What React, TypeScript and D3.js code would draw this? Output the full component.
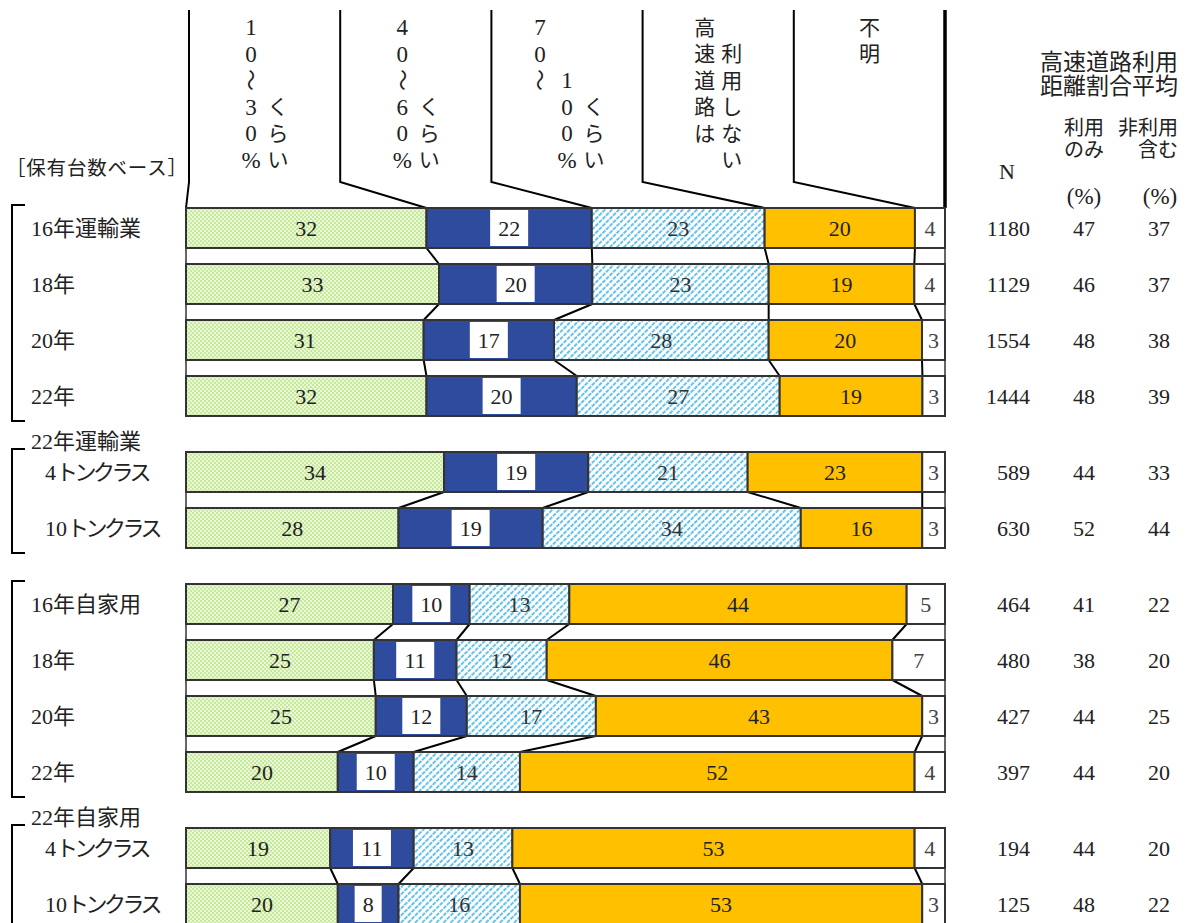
import React from 'react';
import * as d3 from 'd3';

// ---------- data ----------
const categories = ['16年運輸業', '18年', '20年', '22年', '4トンクラス', '10トンクラス', '16年自家用', '18年', '20年', '22年', '4トンクラス', '10トンクラス'];
const groupOf = [0, 0, 0, 0, 1, 1, 2, 2, 2, 2, 3, 3];
const isSubRow = [false, false, false, false, true, true, false, false, false, false, true, true];
const groupTitles = ['', '22年運輸業', '', '22年自家用'];

const seriesNames = ['10～30%くらい', '40～60%くらい', '70～100%くらい', '高速道路は利用しない', '不明'];
const share10to30 = [32, 33, 31, 32, 34, 28, 27, 25, 25, 20, 19, 20];
const share40to60 = [22, 20, 17, 20, 19, 19, 10, 11, 12, 10, 11, 8];
const share70to100 = [23, 23, 28, 27, 21, 34, 13, 12, 17, 14, 13, 16];
const shareNone = [20, 19, 20, 19, 23, 16, 44, 46, 43, 52, 53, 53];
const shareUnknown = [4, 4, 3, 3, 3, 3, 5, 7, 3, 4, 4, 3];

const nValues = [1180, 1129, 1554, 1444, 589, 630, 464, 480, 427, 397, 194, 125];
const avgUsersOnly = [47, 46, 48, 48, 44, 52, 41, 38, 44, 44, 44, 48];
const avgInclNonUsers = [37, 37, 38, 39, 33, 44, 22, 20, 25, 20, 20, 22];

// header texts as vertical columns: [text, starting row]
const headerTexts: [string, number][][] = [
  [['10～30%', 0], ['くらい', 3]],
  [['40～60%', 0], ['くらい', 3]],
  [['70～', 0], ['100%', 2], ['くらい', 3]],
  [['高速道路は', 0], ['利用しない', 1]],
  [['不明', 0]],
];
const rightTitle = ['高速道路利用', '距離割合平均'];
const subHeadUsers = ['利用', 'のみ'];
const subHeadAll = ['非利用', '含む'];
const baseLabel = '［保有台数ベース］';

// ---------- layout ----------
const W = 1188, H = 923;
const X0 = 186, X1 = 945;
const Y0 = 208, PITCH = 56, BAR_H = 40, GROUP_GAP = 20;
const FONT = "'Liberation Serif','Noto Sans CJK JP',serif";
const fills = ['url(#pGreen)', '#2F4B9D', 'url(#pCyan)', '#FFC000', '#FFFFFF'];
const labelColors = ['#222', '#222', '#333', '#222', '#444'];

const rowTop = (i: number) => Y0 + i * PITCH + groupOf[i] * GROUP_GAP;

const seriesList = [share10to30, share40to60, share70to100, shareNone, shareUnknown];

const rows = categories.map((c, i) => {
  const vals = seriesList.map(s => s[i]);
  const total = d3.sum(vals);
  const x = d3.scaleLinear().domain([0, total]).range([X0, X1]);
  const cum = [0, ...Array.from(d3.cumsum(vals))];
  const bounds = cum.map(v => x(v));
  return { c, i, vals, bounds, y: rowTop(i) };
});

const hx = d3.scaleLinear().domain([0, 5]).range([189, 945]);
const HEADER_TOP = 10, HEADER_BOTTOM = 182;
const hRow = (r: number) => 27 + r * 26.5;
const isCJK = (ch: string) => /[\u3040-\u30ff\u4e00-\u9fff]/.test(ch);

export default function App() {
  const groups = d3.groups(rows, r => groupOf[r.i]);
  return (
    <svg width={W} height={H} style={{ position: 'absolute', left: 0, top: 0, background: '#fff' }} fontFamily={FONT}>
      <defs>
        <pattern id="pGreen" width={4} height={4} patternUnits="userSpaceOnUse">
          <rect width={4} height={4} fill="#eaf8d8" />
          <rect width={2} height={2} fill="#c6e99c" />
          <rect x={2} y={2} width={2} height={2} fill="#c6e99c" />
        </pattern>
        <pattern id="pCyan" width={5} height={5} patternUnits="userSpaceOnUse" patternTransform="rotate(45)">
          <rect width={5} height={5} fill="#ffffff" />
          <line x1={1} y1={0} x2={1} y2={5} stroke="#55bde8" strokeWidth={1.8} strokeDasharray="4 1" />
        </pattern>
      </defs>
      <rect width={W} height={H} fill="#fff" />

      {/* header */}
      {d3.range(6).map(k => {
        const bx = rows[0].bounds[k];
        return (
          <path key={'hl' + k}
            d={`M${hx(k)},${HEADER_TOP}L${hx(k)},${HEADER_BOTTOM}L${bx},${rows[0].y}`}
            fill="none" stroke="#000" strokeWidth={k === 5 ? 3.5 : 2} />
        );
      })}
      {headerTexts.map((cols, k) => {
        const cx = (hx(k) + hx(k + 1)) / 2;
        return cols.map(([txt, r0], j) => {
          const x = cx + (j - (cols.length - 1) / 2) * 27;
          return Array.from(txt).map((ch, m) => {
            const y = hRow(r0 + m);
            const fs = isCJK(ch) ? 21 : 23;
            return ch === '～' ? (
              <text key={`h${k}-${j}-${m}`} x={0} y={0} fontSize={22} textAnchor="middle" dy="0.35em"
                transform={`translate(${x},${y}) rotate(90)`} fill="#222">{ch}</text>
            ) : (
              <text key={`h${k}-${j}-${m}`} x={x} y={y} fontSize={fs} textAnchor="middle" dy="0.36em" fill="#222">{ch}</text>
            );
          });
        });
      })}

      <text x={6} y={168} fontSize={19.5} letterSpacing={0.8} dy="0.35em" fill="#222">{baseLabel}</text>

      {/* right headers */}
      {rightTitle.map((t, k) => (
        <text key={'rt' + k} x={1178} y={62 + k * 24} fontSize={23} textAnchor="end" dy="0.35em" fill="#222">{t}</text>
      ))}
      {subHeadUsers.map((t, k) => (
        <text key={'su' + k} x={1084} y={128 + k * 22} fontSize={20} textAnchor="middle" dy="0.35em" fill="#222">{t}</text>
      ))}
      {subHeadAll.map((t, k) => (
        <text key={'sa' + k} x={1178} y={128 + k * 22} fontSize={20} textAnchor="end" dy="0.35em" fill="#222">{t}</text>
      ))}
      <text x={1007} y={171} fontSize={22} textAnchor="middle" dy="0.35em" fill="#222">N</text>
      <text x={1084} y={196} fontSize={23} textAnchor="middle" dy="0.35em" fill="#222">(%)</text>
      <text x={1160} y={196} fontSize={23} textAnchor="middle" dy="0.35em" fill="#222">(%)</text>

      {/* gap strips and connectors inside groups */}
      {groups.map(([g, gr]) =>
        gr.slice(0, -1).map((r, k) => {
          const nx = gr[k + 1];
          const yb = r.y + BAR_H;
          return (
            <g key={`gap${g}-${k}`}>
              <rect x={X0} y={yb} width={X1 - X0} height={nx.y - yb} fill="#fff" stroke="#333" strokeWidth={1.5} />
              {d3.range(1, 5).map(b => (
                <line key={b} x1={r.bounds[b]} y1={yb} x2={nx.bounds[b]} y2={nx.y} stroke="#000" strokeWidth={2} />
              ))}
            </g>
          );
        })
      )}

      {/* bars */}
      {rows.map(r => (
        <g key={'bar' + r.i}>
          {r.vals.map((v, s) => {
            const x0 = r.bounds[s], x1 = r.bounds[s + 1];
            const cx = (x0 + x1) / 2, cy = r.y + BAR_H / 2;
            const label = String(v);
            const boxW = label.length * 11 + 16;
            return (
              <g key={s}>
                <rect x={x0} y={r.y} width={x1 - x0} height={BAR_H} fill={fills[s]} stroke="#333" strokeWidth={2} />
                {s === 1 && (
                  <rect x={cx - boxW / 2} y={r.y + 2} width={boxW} height={BAR_H - 4} fill="#fff" />
                )}
                <text x={cx} y={cy} fontSize={22} textAnchor="middle" dy="0.35em" fill={labelColors[s]}>{label}</text>
              </g>
            );
          })}
        </g>
      ))}

      {/* row labels */}
      {rows.map(r => {
        const m = r.c.match(/^(\d+)(.*)$/);
        const num = m ? m[1] : '';
        const rest = m ? m[2] : r.c;
        const sub = isSubRow[r.i];
        return (
          <text key={'lab' + r.i} x={sub ? 45 : 31} y={r.y + BAR_H / 2} fontSize={22} dy="0.35em" fill="#222">
            <tspan>{num}</tspan>
            <tspan letterSpacing={sub ? -3.5 : 0}>{rest}</tspan>
          </text>
        );
      })}
      {groups.map(([g, gr]) => groupTitles[g] ? (
        <text key={'gt' + g} x={31} y={gr[0].y - 11} fontSize={22} dy="0.35em" fill="#222">{groupTitles[g]}</text>
      ) : null)}
      {/* brackets */}
      {groups.map(([g, gr]) => {
        const top = gr[0].y - 3;
        const bot = gr[gr.length - 1].y + BAR_H + 5;
        return <path key={'br' + g} d={`M25,${top}H12V${bot}H25`} fill="none" stroke="#000" strokeWidth={2} />;
      })}

      {/* right columns */}
      {rows.map(r => (
        <g key={'rc' + r.i} fontSize={22} fill="#222">
          <text x={1030} y={r.y + BAR_H / 2} textAnchor="end" dy="0.35em">{nValues[r.i]}</text>
          <text x={1084} y={r.y + BAR_H / 2} textAnchor="middle" dy="0.35em">{avgUsersOnly[r.i]}</text>
          <text x={1159} y={r.y + BAR_H / 2} textAnchor="middle" dy="0.35em">{avgInclNonUsers[r.i]}</text>
        </g>
      ))}
      <title>{seriesNames.join(' / ')}</title>
    </svg>
  );
}
